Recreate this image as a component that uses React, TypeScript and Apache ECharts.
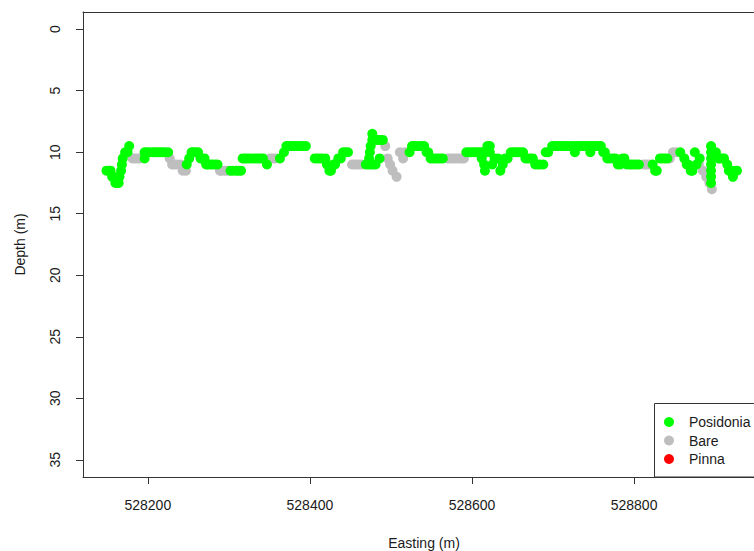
import React, { useEffect, useRef } from "react";
import * as echarts from "echarts";

// Easting (m), Depth (m)
const posidonia: [number, number][] = [
  [528149, 11.5], [528152, 11.5], [528154, 11.5], [528156, 12], [528158, 12], [528160, 12.5], [528162, 12.5], [528164, 12.5], [528165, 12],
  [528167, 11.5], [528168, 11], [528169, 10.5], [528172, 10], [528175, 10], [528177, 9.5],
  [528196, 10.5], [528196, 10], [528199, 10], [528202, 10], [528206, 10], [528209, 10], [528212, 10], [528215, 10], [528218, 10], [528221, 10], [528225, 10],
  [528248, 11], [528251, 10.5], [528254, 10], [528256, 10], [528259, 10], [528262, 10], [528265, 10.5], [528267, 10.5], [528270, 10.5],
  [528272, 11], [528274, 11], [528277, 11], [528280, 11], [528283, 11], [528286, 11],
  [528302, 11.5], [528305, 11.5], [528309, 11.5], [528312, 11.5], [528315, 11.5],
  [528317, 10.5], [528320, 10.5], [528323, 10.5], [528326, 10.5], [528330, 10.5], [528333, 10.5], [528336, 10.5], [528339, 10.5], [528342, 10.5], [528347, 11],
  [528363, 10.5], [528368, 10], [528371, 9.5], [528373, 9.5], [528376, 9.5], [528379, 9.5], [528382, 9.5], [528385, 9.5], [528388, 9.5], [528391, 9.5], [528395, 9.5],
  [528406, 10.5], [528409, 10.5], [528412, 10.5], [528415, 10.5], [528419, 10.5], [528421, 11], [528424, 11.5], [528426, 11.5], [528429, 11], [528431, 11],
  [528435, 10.5], [528438, 10.5], [528441, 10], [528444, 10], [528447, 10],
  [528469, 11], [528472, 11], [528475, 11], [528478, 11], [528481, 11],
  [528473, 10.5], [528474, 10], [528475, 9.5], [528477, 9], [528477, 8.5], [528481, 9], [528484, 9], [528487, 9], [528490, 9], [528486, 10.5],
  [528523, 10], [528526, 9.5], [528528, 9.5], [528531, 9.5], [528535, 9.5], [528538, 9.5], [528541, 9.5],
  [528544, 10], [528546, 10], [528549, 10.5], [528552, 10.5], [528555, 10.5], [528558, 10.5], [528561, 10.5], [528564, 10.5],
  [528593, 10], [528596, 10], [528599, 10], [528602, 10], [528605, 10], [528608, 10], [528611, 10], [528614, 10], [528617, 10], [528622, 10],
  [528612, 10.5], [528615, 11], [528616, 11.5], [528619, 9.5], [528622, 9.5], [528625, 11],
  [528628, 10.5], [528632, 10.5], [528635, 11.5], [528638, 11], [528641, 10.5], [528644, 10.5], [528648, 10], [528651, 10], [528654, 10], [528657, 10], [528660, 10], [528663, 10],
  [528666, 10.5], [528669, 10.5], [528672, 10.5], [528675, 10.5], [528678, 11], [528681, 11], [528684, 11], [528688, 11],
  [528691, 10], [528694, 10], [528699, 9.5],
  [528702, 9.5], [528705, 9.5], [528708, 9.5], [528711, 9.5], [528714, 9.5], [528717, 9.5], [528720, 9.5], [528723, 9.5], [528727, 9.5], [528730, 9.5], [528733, 9.5], [528736, 9.5],
  [528739, 9.5], [528742, 9.5], [528745, 9.5], [528748, 9.5], [528751, 9.5], [528754, 9.5], [528757, 9.5], [528759, 9.5], [528727, 10], [528746, 10],
  [528762, 10], [528764, 10], [528767, 10.5], [528770, 10.5], [528774, 10.5], [528777, 10.5], [528780, 11], [528783, 11],
  [528786, 10.5], [528788, 10.5], [528791, 11], [528794, 11], [528797, 11], [528800, 11], [528803, 11], [528806, 11],
  [528823, 11], [528826, 11.5], [528828, 11.5],
  [528832, 10.5], [528835, 10.5], [528838, 10.5], [528841, 10.5],
  [528857, 10],
  [528862, 10.5], [528865, 11], [528867, 11], [528870, 11.5], [528872, 11.5], [528877, 11], [528881, 10.5], [528875, 10],
  [528895, 9.5], [528895, 10], [528895, 10.5], [528895, 11], [528895, 11.5], [528895, 12], [528895, 12.5],
  [528898, 10], [528901, 10], [528904, 10.5], [528906, 10.5], [528909, 10.5], [528911, 10.5], [528915, 11],
  [528917, 11.5], [528920, 11.5], [528922, 12], [528925, 11.5], [528927, 11.5],
];

const bare: [number, number][] = [
  [528181, 10.5], [528184, 10.5], [528187, 10.5], [528190, 10.5],
  [528227, 10.5], [528230, 11], [528233, 11], [528236, 11], [528240, 11], [528243, 11.5], [528247, 11.5],
  [528289, 11.5], [528291, 11.5], [528295, 11.5], [528298, 11.5],
  [528351, 10.5], [528354, 10.5], [528357, 10.5],
  [528452, 11], [528455, 11], [528458, 11], [528461, 11], [528464, 11],
  [528493, 9.5], [528496, 10.5], [528499, 11], [528502, 11.5], [528507, 12],
  [528511, 10], [528515, 10.5], [528517, 10],
  [528570, 10.5], [528573, 10.5], [528576, 10.5], [528579, 10.5], [528582, 10.5], [528585, 10.5], [528588, 10.5], [528590, 10.5],
  [528811, 11], [528814, 11], [528817, 11], [528820, 11],
  [528844, 10.5], [528848, 10], [528852, 10],
  [528880, 11], [528885, 11.5], [528889, 12], [528893, 12.5], [528896, 13],
];

const pinna: [number, number][] = [];

const xTicks = [528200, 528400, 528600, 528800];
const yTicks = [0, 5, 10, 15, 20, 25, 30, 35];

const FONT = "'Liberation Sans', Arial, sans-serif";
const INK = "#1a1a1a";
const LINE = "#333";

export default function App() {
  const ref = useRef<HTMLDivElement>(null);
  useEffect(() => {
    if (!ref.current) return;
    const chart = echarts.init(ref.current, undefined, { renderer: "svg" });
    const hidden = { show: false };
    chart.setOption({
      animation: false,
      backgroundColor: "#ffffff",
      textStyle: { fontFamily: FONT },
      grid: {
        left: 83,
        top: 12,
        right: 0,
        height: 465,
        show: false,
        outerBoundsMode: "none",
        containLabel: false,
      },
      xAxis: [
        {
          type: "value",
          min: 528120,
          max: 528948,
          name: "Easting (m)",
          nameLocation: "middle",
          nameGap: 59,
          nameTextStyle: { fontSize: 14, color: INK, fontFamily: FONT, padding: [0, 0, 0, 11] },
          axisLine: { show: true, onZero: false, lineStyle: { color: LINE, width: 1 } },
          splitLine: hidden,
          axisTick: { show: true, inside: false, length: 7, customValues: xTicks, lineStyle: { color: LINE } },
          axisLabel: {
            customValues: xTicks,
            margin: 21,
            fontSize: 14,
            color: INK,
            fontFamily: FONT,
            formatter: (v: number) => String(v),
          },
        },
        {
          type: "value",
          position: "top",
          min: 528120,
          max: 528948,
          axisLine: { show: true, onZero: false, lineStyle: { color: LINE, width: 1 } },
          splitLine: hidden,
          axisTick: hidden,
          axisLabel: hidden,
        },
      ],
      yAxis: {
        type: "value",
        inverse: true,
        min: -1.4,
        max: 36.4,
        name: "Depth (m)",
        nameLocation: "middle",
        nameGap: 56,
        nameRotate: 90,
        nameTextStyle: { fontSize: 14, color: INK, fontFamily: FONT },
        axisLine: { show: true, onZero: false, lineStyle: { color: LINE, width: 1 } },
        splitLine: hidden,
        axisTick: { show: true, inside: false, length: 7, customValues: yTicks, lineStyle: { color: LINE } },
        axisLabel: { customValues: yTicks, rotate: 90, margin: 21, fontSize: 14, color: INK, fontFamily: FONT },
      },
      graphic: [
        {
          type: "rect",
          shape: { x: 654.5, y: 403.5, width: 140, height: 73.5 },
          style: { fill: "#ffffff", stroke: LINE, lineWidth: 1 },
          z: 1,
        },
      ],
      legend: {
        orient: "vertical",
        left: 654,
        top: 403,
        padding: [10, 10, 9, 10],
        itemGap: 0.5,
        itemWidth: 10,
        itemHeight: 10,
        icon: "circle",
        borderWidth: 0,
        z: 5,
        textStyle: { fontSize: 14, color: INK, fontFamily: FONT, lineHeight: 18, padding: [0, 0, 0, 10] },
        data: ["Posidonia", "Bare", "Pinna"],
      },
      series: [
        {
          name: "Bare",
          type: "scatter",
          data: bare,
          symbolSize: 10,
          itemStyle: { color: "#BEBEBE", opacity: 1 },
          z: 2,
        },
        {
          name: "Posidonia",
          type: "scatter",
          data: posidonia,
          symbolSize: 10,
          itemStyle: { color: "#00FF00", opacity: 1 },
          z: 3,
        },
        {
          name: "Pinna",
          type: "scatter",
          data: pinna,
          symbolSize: 10,
          itemStyle: { color: "#FF0000", opacity: 1 },
          z: 4,
        },
      ],
    });
    return () => chart.dispose();
  }, []);
  return (
    <div
      ref={ref}
      style={{ position: "absolute", left: 0, top: 0, width: 754, height: 551 }}
    />
  );
}
